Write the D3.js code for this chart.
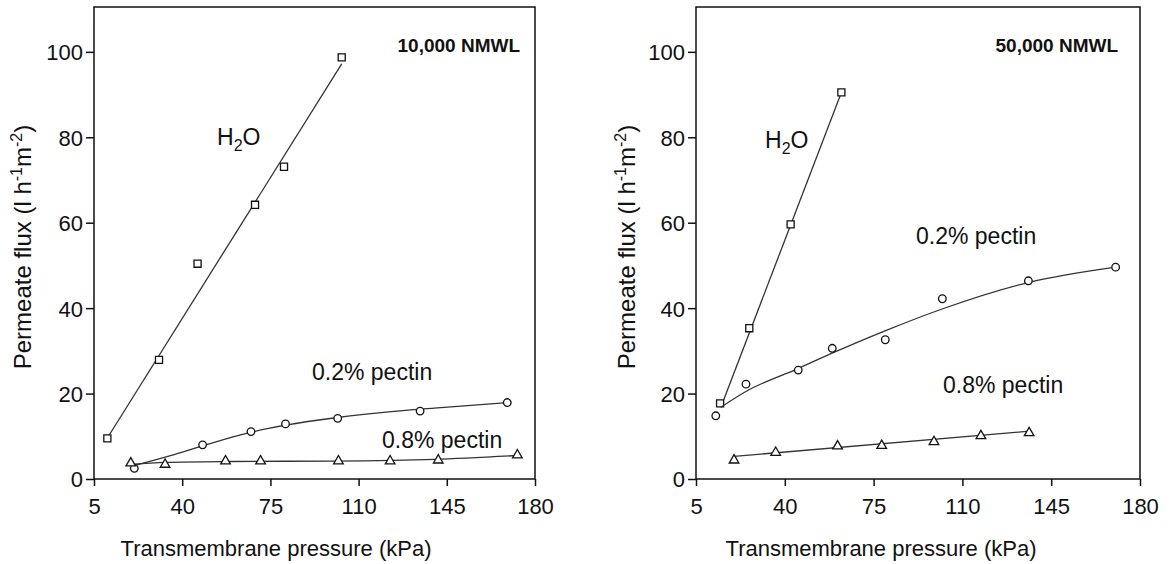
<!DOCTYPE html>
<meta charset="utf-8">
<style>
body { margin: 0; background: #fff; }
svg text { font-family: "Liberation Sans", Arial, sans-serif; fill: #111; }
.tick text { font-size: 22px; }
.axis path, .axis line { stroke: #111; stroke-width: 1.5px; }
.frame { fill: none; stroke: #111; stroke-width: 1.5px; }
.fit { fill: none; stroke: #333; stroke-width: 1.3px; }
.mark { fill: #fff; stroke: #111; stroke-width: 1.3px; }
.title { font-size: 22px; }
.ytitle { font-size: 24px; }
.note { font-size: 23px; }
.nmwl { font-size: 19px; font-weight: bold; }
</style>
<svg width="1174" height="564"></svg>
<script src="https://d3js.org/d3.v7.min.js"></script>
<script>

// ticks
var xTicks = [5, 40, 75, 110, 145, 180];
var yTicks = [0, 20, 40, 60, 80, 100];

// 10,000 NMWL panel
var h2o10X = [10.3, 30.8, 46.1, 68.9, 80.4, 103.3];
var h2o10Y = [9.5, 27.9, 50.4, 64.2, 73.1, 98.7];
var h2o10FitX = [10.3, 103.3];
var h2o10FitY = [9.6, 97.2];
var pec2_10X = [21, 48.1, 67.3, 81, 101.7, 134.4, 169];
var pec2_10Y = [2.5, 8.0, 11.1, 12.9, 14.2, 15.9, 17.9];
var pec2_10FitX = [20, 35, 50, 67, 81, 101.7, 120, 140, 169];
var pec2_10FitY = [3.0, 5.4, 8.1, 10.9, 12.6, 14.4, 15.6, 16.6, 17.9];
var pec8_10X = [19.6, 33.2, 57.2, 71.1, 102, 122.5, 141.6, 173];
var pec8_10Y = [3.7, 3.4, 4.2, 4.2, 4.2, 4.2, 4.4, 5.6];
var pec8_10FitX = [19.6, 33, 60, 100, 140, 173];
var pec8_10FitY = [3.4, 3.9, 4.1, 4.2, 4.6, 5.5];

// 50,000 NMWL panel
var h2o50X = [14.5, 26, 42.3, 62.3];
var h2o50Y = [17.7, 35.3, 59.6, 90.5];
var h2o50FitX = [14.8, 62.3];
var h2o50FitY = [16.8, 90.5];
var pec2_50X = [12.8, 24.7, 45.3, 58.7, 79.6, 102.1, 136, 170.4];
var pec2_50Y = [14.8, 22.2, 25.5, 30.6, 32.6, 42.2, 46.4, 49.6];
var pec2_50FitX = [14.8, 25, 45, 60, 80, 102, 136, 170.4];
var pec2_50FitY = [16.8, 20.6, 25.8, 29.8, 34.8, 39.8, 46.0, 49.6];
var pec8_50X = [20, 36.4, 60.8, 78.2, 98.8, 117.3, 136.3];
var pec8_50Y = [4.4, 6.2, 7.7, 7.8, 8.7, 10.1, 10.8];
var pec8_50FitX = [20, 136.3];
var pec8_50FitY = [5.3, 11.2];

var svg = d3.select("svg");

function zip(xs, ys) {
  return xs.map(function(v, i) { return [v, ys[i]]; });
}

function drawPanel(p) {
  var x = d3.scaleLinear().domain([5, 180]).range([p.left, p.right]),
      y = d3.scaleLinear().domain([0, 110.5]).range([479, 7]);

  var g = svg.append("g");

  g.append("g")
      .attr("class", "axis")
      .attr("transform", "translate(0,479)")
      .call(d3.axisBottom(x).tickValues(xTicks).tickSize(7).tickSizeOuter(0).tickPadding(12))
      .call(function(a) { a.select(".domain").remove(); });

  g.append("g")
      .attr("class", "axis")
      .attr("transform", "translate(" + p.left + ",0)")
      .call(d3.axisLeft(y).tickValues(yTicks).tickSize(8).tickSizeOuter(0).tickPadding(3))
      .call(function(a) { a.select(".domain").remove(); a.selectAll(".tick text").attr("dy", "0.36em"); });

  g.append("rect")
      .attr("class", "frame")
      .attr("x", p.left).attr("y", y(110.5))
      .attr("width", p.right - p.left).attr("height", 479 - y(110.5));

  var line = d3.line().x(function(d) { return x(d[0]); }).y(function(d) { return y(d[1]); });

  p.series.forEach(function(s) {
    g.append("path")
        .attr("class", "fit")
        .attr("d", line.curve(s.fit[0].length > 2 ? d3.curveMonotoneX : d3.curveLinear)(zip(s.fit[0], s.fit[1])));

    g.selectAll(null)
      .data(zip(s.x, s.y))
      .enter().append("path")
        .attr("class", "mark")
        .attr("transform", function(d) { return "translate(" + x(d[0]) + "," + y(d[1]) + ")"; })
        .attr("d", d3.symbol().type(s.shape).size(s.size));
  });

  // labels
  var h = g.append("text").attr("class", "note").attr("x", p.h2o[0]).attr("y", p.h2o[1]);
  h.append("tspan").text("H");
  h.append("tspan").attr("dy", 6).attr("font-size", 16).text("2");
  h.append("tspan").attr("dy", -6).text("O");

  g.append("text").attr("class", "note").attr("x", p.p2[0]).attr("y", p.p2[1]).text("0.2% pectin");
  g.append("text").attr("class", "note").attr("x", p.p8[0]).attr("y", p.p8[1]).text("0.8% pectin");

  g.append("text").attr("class", "nmwl")
      .attr("x", p.nmwlX).attr("y", 52)
      .attr("text-anchor", "end")
      .text(p.name);

  g.append("text").attr("class", "title")
      .attr("x", p.titleX).attr("y", 556)
      .attr("text-anchor", "middle")
      .text("Transmembrane pressure (kPa)");

  var yl = g.append("text").attr("class", "ytitle")
      .attr("transform", "translate(" + p.ylx + ",247) rotate(-90)")
      .attr("text-anchor", "middle");
  yl.append("tspan").text("Permeate flux (l h");
  yl.append("tspan").attr("dy", -9).attr("font-size", 16).text("-1");
  yl.append("tspan").attr("dy", 9).text("m");
  yl.append("tspan").attr("dy", -9).attr("font-size", 16).text("-2");
  yl.append("tspan").attr("dy", 9).text(")");
}

drawPanel({
  name: "10,000 NMWL", left: 94, right: 535, ylx: 31, nmwlX: 520, titleX: 276,
  h2o: [217, 145], p2: [312, 380], p8: [382, 448],
  series: [
    {x: h2o10X, y: h2o10Y, fit: [h2o10FitX, h2o10FitY], shape: d3.symbolSquare, size: 50},
    {x: pec2_10X, y: pec2_10Y, fit: [pec2_10FitX, pec2_10FitY], shape: d3.symbolCircle, size: 45},
    {x: pec8_10X, y: pec8_10Y, fit: [pec8_10FitX, pec8_10FitY], shape: d3.symbolTriangle, size: 40}
  ]
});

drawPanel({
  name: "50,000 NMWL", left: 696, right: 1140, ylx: 635, nmwlX: 1118, titleX: 881,
  h2o: [765, 148], p2: [916, 244], p8: [943, 393],
  series: [
    {x: h2o50X, y: h2o50Y, fit: [h2o50FitX, h2o50FitY], shape: d3.symbolSquare, size: 50},
    {x: pec2_50X, y: pec2_50Y, fit: [pec2_50FitX, pec2_50FitY], shape: d3.symbolCircle, size: 45},
    {x: pec8_50X, y: pec8_50Y, fit: [pec8_50FitX, pec8_50FitY], shape: d3.symbolTriangle, size: 40}
  ]
});

</script>
